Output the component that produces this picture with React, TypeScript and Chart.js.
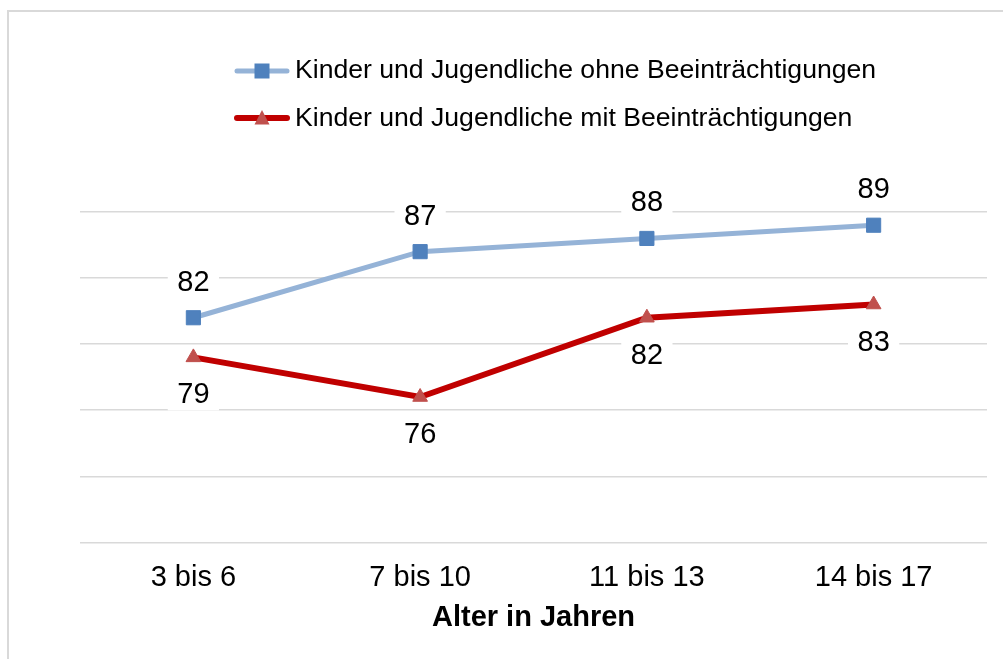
import React, { useEffect, useRef } from "react";
import { Chart, registerables } from "chart.js";

Chart.register(...registerables);

const categories = ["3 bis 6", "7 bis 10", "11 bis 13", "14 bis 17"];
const seriesOhne = [82, 87, 88, 89];
const seriesMit = [79, 76, 82, 83];
const seriesNames = [
  "Kinder und Jugendliche ohne Beeinträchtigungen",
  "Kinder und Jugendliche mit Beeinträchtigungen",
];
const axisTitle = "Alter in Jahren";
const yMin = 65;
const yMax = 90;
const yStep = 5;

const FONT = '"Liberation Sans", Arial, sans-serif';

const markerColors = ["#4f81bd", "#c0504d"];

function drawMarker(ctx: CanvasRenderingContext2D, style: string, x: number, y: number, color: string) {
  ctx.save();
  ctx.fillStyle = color;
  if (style === "rect") {
    ctx.fillRect(x - 7.5, y - 7.5, 15, 15);
  } else {
    ctx.beginPath();
    ctx.moveTo(x, y - 8);
    ctx.lineTo(x + 7.5, y + 6.5);
    ctx.lineTo(x - 7.5, y + 6.5);
    ctx.closePath();
    ctx.fill();
  }
  ctx.restore();
}

const legendPlugin = {
  id: "customLegend",
  afterDraw(chart: any) {
    const ctx: CanvasRenderingContext2D = chart.ctx;
    const lineY = [71, 118];
    const textY = [78, 126];
    const x0 = 237;
    const x1 = 287;
    const tx = 295;
    ctx.save();
    chart.data.datasets.forEach((ds: any, i: number) => {
      ctx.strokeStyle = ds.borderColor;
      ctx.lineWidth = ds.borderWidth;
      ctx.lineCap = "round";
      ctx.beginPath();
      ctx.moveTo(x0, lineY[i]);
      ctx.lineTo(x1, lineY[i]);
      ctx.stroke();
      drawMarker(ctx, ds.pointStyle, (x0 + x1) / 2, lineY[i], ds.pointBackgroundColor);
      ctx.fillStyle = "#000";
      ctx.font = `26.6px ${FONT}`;
      ctx.textAlign = "left";
      ctx.textBaseline = "alphabetic";
      ctx.fillText(ds.label, tx, textY[i]);
    });
    ctx.restore();
  },
};

const dataLabelPlugin = {
  id: "dataLabels",
  afterDatasetsDraw(chart: any) {
    const ctx: CanvasRenderingContext2D = chart.ctx;
    ctx.save();
    ctx.font = `29px ${FONT}`;
    ctx.textAlign = "center";
    ctx.textBaseline = "middle";
    chart.data.datasets.forEach((ds: any, i: number) => {
      const meta = chart.getDatasetMeta(i);
      const above = i === 0;
      meta.data.forEach((pt: any, j: number) => {
        const text = String(ds.data[j]);
        const w = ctx.measureText(text).width + 19;
        const cy = pt.y + (above ? -35 : 38);
        ctx.fillStyle = "#ffffff";
        ctx.fillRect(pt.x - w / 2, cy - 15, w, 30);
        ctx.fillStyle = "#000000";
        ctx.fillText(text, pt.x, cy);
      });
    });
    ctx.restore();
  },
};

export default function App() {
  const canvasRef = useRef<HTMLCanvasElement | null>(null);

  useEffect(() => {
    if (!canvasRef.current) return;
    const chart = new Chart(canvasRef.current, {
      type: "line",
      data: {
        labels: categories,
        datasets: [
          {
            label: seriesNames[0],
            data: seriesOhne,
            borderColor: "#95b3d7",
            borderWidth: 5,
            pointStyle: "rect",
            pointRadius: 10,
            pointBorderWidth: 1,
            pointBackgroundColor: markerColors[0],
            pointBorderColor: markerColors[0],
            tension: 0,
            clip: false as any,
          },
          {
            label: seriesNames[1],
            data: seriesMit,
            borderColor: "#c00000",
            borderWidth: 6,
            pointStyle: "triangle",
            pointRadius: 8.5,
            pointBorderWidth: 1,
            pointBackgroundColor: markerColors[1],
            pointBorderColor: markerColors[1],
            tension: 0,
            clip: false as any,
          },
        ],
      },
      options: {
        responsive: false,
        animation: false,
        layout: { padding: { left: 80, right: 16, top: 212, bottom: 24 } },
        plugins: {
          legend: { display: false },
          tooltip: { enabled: false },
        },
        scales: {
          x: {
            offset: true,
            grid: { display: false, drawTicks: false },
            border: { display: false },
            ticks: {
              color: "#000",
              padding: 18,
              font: { family: FONT, size: 29 },
              maxRotation: 0,
            },
            title: {
              display: true,
              text: axisTitle,
              color: "#000",
              padding: { top: -13, bottom: 0 },
              font: { family: FONT, size: 29, weight: "bold" },
            },
          },
          y: {
            min: yMin,
            max: yMax,
            grid: { color: "#d9d9d9", lineWidth: 1.5, drawTicks: false },
            border: { display: false },
            ticks: { display: false, stepSize: yStep },
          },
        },
      },
      plugins: [dataLabelPlugin, legendPlugin],
    });
    return () => chart.destroy();
  }, []);

  return (
    <div style={{ position: "fixed", left: 0, top: 0, width: 1003, height: 659, background: "#fff" }}>
      <div
        style={{
          position: "absolute",
          left: 7,
          top: 10,
          right: 0,
          bottom: 0,
          borderLeft: "2px solid #d9d9d9",
          borderTop: "2px solid #d9d9d9",
        }}
      />
      <canvas
        ref={canvasRef}
        width={1003}
        height={659}
        style={{ position: "absolute", left: 0, top: 0, display: "block" }}
      />
    </div>
  );
}
